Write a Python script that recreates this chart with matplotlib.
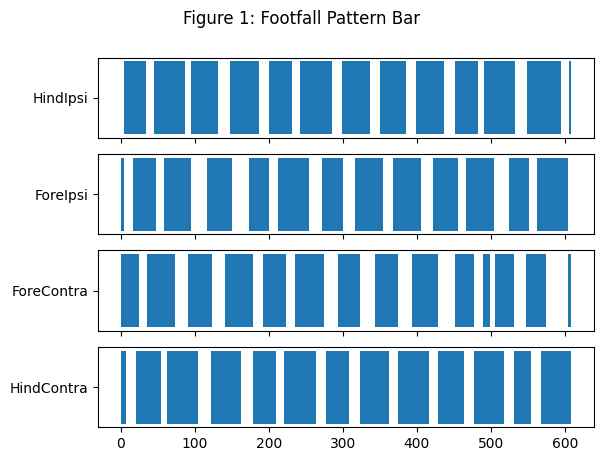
import matplotlib
matplotlib.use("Agg")
import matplotlib.pyplot as plt

# stance intervals (start frame, end frame)
hind_ipsi = [(5, 35), (45, 87), (95, 131), (148, 187), (201, 232), (243, 286),
             (299, 337), (351, 385), (399, 437), (452, 483), (491, 533),
             (549, 595), (606, 609)]
fore_ipsi = [(0, 5), (17, 48), (59, 95), (117, 151), (174, 201), (213, 254),
             (272, 301), (317, 355), (368, 406), (422, 456), (467, 505),
             (524, 551), (563, 605)]
fore_contra = [(0, 25), (36, 74), (91, 124), (141, 179), (193, 224), (235, 275),
               (294, 324), (344, 375), (394, 429), (452, 478), (489, 499),
               (506, 532), (547, 574), (604, 609)]
hind_contra = [(0, 8), (21, 54), (63, 105), (122, 163), (179, 210), (221, 264),
               (277, 308), (324, 362), (375, 416), (429, 464), (478, 518),
               (532, 554), (568, 609)]

limb_names = ["HindIpsi", "ForeIpsi", "ForeContra", "HindContra"]
limb_data = [hind_ipsi, fore_ipsi, fore_contra, hind_contra]

fig, axes = plt.subplots(4, 1, sharex=True, figsize=(6.07, 4.61), dpi=100)
fig.subplots_adjust(left=98 / 607, right=594 / 607,
                    top=1 - 57.6 / 461, bottom=1 - 427.2 / 461, hspace=0.2)

for ax, name, intervals in zip(axes, limb_names, limb_data):
    spans = [(s, e - s) for s, e in intervals]
    ax.broken_barh(spans, (-0.4, 0.8), facecolors="tab:blue")
    ax.set_yticks([0])
    ax.set_yticklabels([name])

fig.suptitle("Figure 1: Footfall Pattern Bar", x=302 / 607, y=1 - 9.6 / 461)
fig.savefig("out.png", dpi=100)
